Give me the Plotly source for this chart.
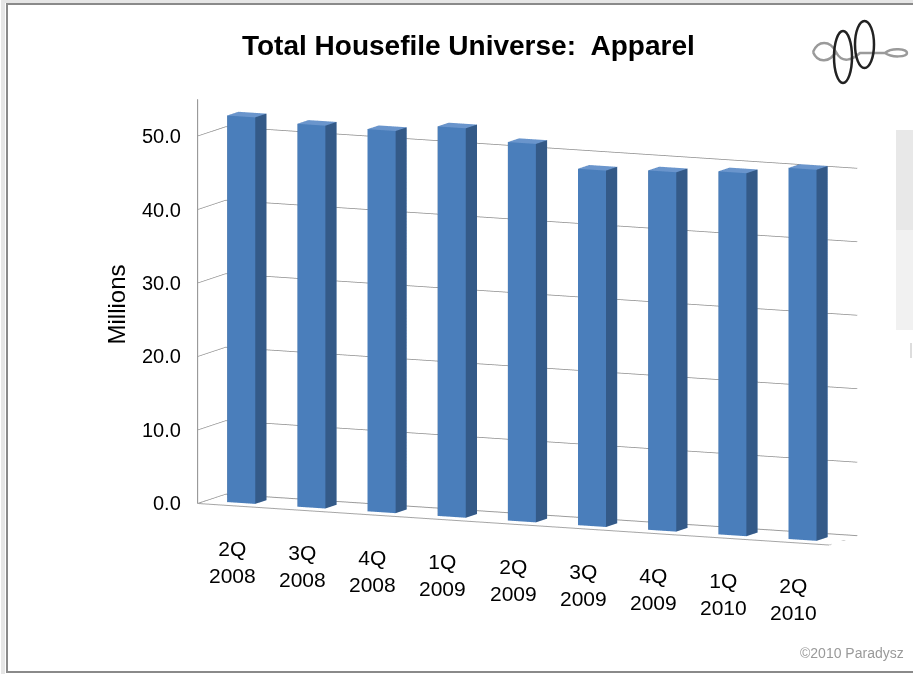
import plotly.graph_objects as go
import math

# ---------------- data ----------------
categories = ["2Q<br>2008", "3Q<br>2008", "4Q<br>2008", "1Q<br>2009", "2Q<br>2009",
              "3Q<br>2009", "4Q<br>2009", "1Q<br>2010", "2Q<br>2010"]
values = [52.6, 52.1, 52.0, 53.0, 51.5, 48.5, 48.9, 49.4, 50.5]
z_ticks = [0, 10, 20, 30, 40, 50]

# ---------------- geometry / style ----------------
W, H = 913, 674
FONT = "Liberation Sans, Arial, sans-serif"
FRONT_C = "#4A7EBB"
SIDE_C = "#345A88"
TOP_C = "#6A95CC"
GRID_C = "#8c8c8c"

bw, bd = 0.40, 0.36          # bar width / depth (category units)
depth = 0.9                  # floor depth
yc = depth / 2
xr = [-0.5, len(values) - 0.5]
zr = [0, 55]

# build one mesh with all bars
xs, ys, zs, I, J, K, fc = [], [], [], [], [], [], []
for i, v in enumerate(values):
    x0, x1 = i - bw / 2, i + bw / 2
    y0, y1 = yc - bd / 2, yc + bd / 2
    base = len(xs)
    for (a, b, c) in [(x0, y0, 0), (x1, y0, 0), (x1, y1, 0), (x0, y1, 0),
                      (x0, y0, v), (x1, y0, v), (x1, y1, v), (x0, y1, v)]:
        xs.append(a); ys.append(b); zs.append(c)
    faces = [((0, 1, 5), FRONT_C), ((0, 5, 4), FRONT_C),
             ((1, 2, 6), SIDE_C), ((1, 6, 5), SIDE_C),
             ((4, 5, 6), TOP_C), ((4, 6, 7), TOP_C),
             ((0, 3, 7), SIDE_C), ((0, 7, 4), SIDE_C),
             ((3, 2, 6), FRONT_C), ((3, 6, 7), FRONT_C),
             ((0, 1, 2), FRONT_C), ((0, 2, 3), FRONT_C)]
    for (a, b, c), col in faces:
        I.append(base + a); J.append(base + b); K.append(base + c); fc.append(col)

bars = go.Mesh3d(x=xs, y=ys, z=zs, i=I, j=J, k=K, facecolor=fc, flatshading=True,
                 lighting=dict(ambient=1, diffuse=0, specular=0, fresnel=0, roughness=1),
                 hoverinfo="skip", showscale=False)

# floor outline
fx = [xr[0], xr[1], xr[1], xr[0], xr[0]]
fy = [0, 0, depth, depth, 0]
fz = [0, 0, 0, 0, 0]
floor = go.Scatter3d(x=fx, y=fy, z=fz, mode="lines",
                     line=dict(color="#a6a6a6", width=2), hoverinfo="skip", showlegend=False)

fig = go.Figure([bars, floor])

scene_ann = []
for i, c in enumerate(categories):
    scene_ann.append(dict(x=i, y=0, z=0, text=c, showarrow=False, xanchor="center",
                          yanchor="top", yshift=-29,
                          font=dict(family=FONT, size=21, color="#000")))
for t in z_ticks:
    scene_ann.append(dict(x=xr[0], y=0, z=t, text=f"{t:.1f}", showarrow=False,
                          xanchor="right", yanchor="middle", xshift=-14,
                          font=dict(family=FONT, size=20, color="#000")))

axis_common = dict(showbackground=False, showspikes=False, zeroline=False, title="")
th, ph = math.radians(24), math.radians(8.5)
r = 2.2
fig.update_layout(
    width=W, height=H, margin=dict(l=0, r=0, t=0, b=0),
    paper_bgcolor="white", showlegend=False,
    scene=dict(
        domain=dict(x=[0.2, 0.955], y=[0.119, 0.939]),
        xaxis=dict(range=xr, showgrid=False, showticklabels=False, showline=False, **axis_common),
        yaxis=dict(range=[0, depth], showgrid=False, showticklabels=False, showline=False, **axis_common),
        zaxis=dict(range=zr, tickvals=z_ticks, showgrid=True, gridcolor=GRID_C, gridwidth=1.5,
                   showticklabels=False, showline=True, linecolor=GRID_C, linewidth=2, **axis_common),
        aspectmode="manual", aspectratio=dict(x=2.5, y=0.25, z=1.478),
        camera=dict(eye=dict(x=r * math.sin(th) * math.cos(ph), y=-r * math.cos(th) * math.cos(ph),
                             z=r * math.sin(ph)),
                    up=dict(x=0, y=0, z=1), center=dict(x=0, y=0, z=0),
                    projection=dict(type="orthographic")),
        annotations=scene_ann,
    ),
    title=dict(text="<b>Total Housefile Universe:\u00a0 Apparel</b>", x=0.513, xanchor="center",
               y=1 - 45 / H, yanchor="middle", font=dict(family=FONT, size=28, color="#000")),
    annotations=[
        dict(text="Millions", x=100 / W, y=1 - 305 / H, xref="paper", yref="paper", showarrow=False,
             textangle=-90, font=dict(family=FONT, size=24, color="#000")),
        dict(text="©2010 Paradysz", x=906 / W, y=1 - 653 / H, xref="paper", yref="paper",
             xanchor="right", yanchor="middle", showarrow=False,
             font=dict(family=FONT, size=14, color="#9a9a9a")),
    ],
    shapes=[
        # outer frame with soft shadow
        dict(type="rect", xref="paper", yref="paper", x0=3 / W, x1=1.01, y0=1 - 676 / H, y1=1 - 1 / H,
             line=dict(color="#e6e6e6", width=4), layer="below"),
        dict(type="rect", xref="paper", yref="paper", x0=7 / W, x1=1.01, y0=1 - 672 / H, y1=1 - 4 / H,
             line=dict(color="#8a8a8a", width=2), layer="below"),
        # faint legend remnant at right
        dict(type="rect", xref="paper", yref="paper", x0=896 / W, x1=1.0, y0=1 - 330 / H, y1=1 - 130 / H,
             fillcolor="#f1f1f1", line=dict(width=0), layer="below"),
        dict(type="rect", xref="paper", yref="paper", x0=896 / W, x1=1.0, y0=1 - 230 / H, y1=1 - 130 / H,
             fillcolor="#e8e8e8", line=dict(width=0), layer="below"),
        dict(type="line", xref="paper", yref="paper", x0=911 / W, x1=911 / W, y0=1 - 358 / H, y1=1 - 343 / H,
             line=dict(color="#bbbbbb", width=1)),
        # logo
        dict(type="path", xref="paper", yref="paper",
             path=f"M {813/W},{1-52/H} C {818/W},{1-40/H} {830/W},{1-40/H} {836/W},{1-52/H} "
                  f"C {842/W},{1-64/H} {852/W},{1-60/H} {860/W},{1-53/H} L {885/W},{1-53/H} "
                  f"C {892/W},{1-47/H} {907/W},{1-49/H} {907/W},{1-53/H} C {907/W},{1-57/H} {892/W},{1-58/H} {885/W},{1-53/H} "
                  f"M {813/W},{1-52/H} C {818/W},{1-64/H} {830/W},{1-62/H} {836/W},{1-52/H}",
             line=dict(color="#9a9a9a", width=2.5)),
        dict(type="circle", xref="paper", yref="paper", x0=834 / W, x1=852 / W, y0=1 - 83 / H, y1=1 - 31 / H,
             line=dict(color="#222", width=2.5)),
        dict(type="circle", xref="paper", yref="paper", x0=855 / W, x1=874 / W, y0=1 - 68 / H, y1=1 - 21 / H,
             line=dict(color="#222", width=2.5)),
    ],
)

fig.write_html("out.html")
